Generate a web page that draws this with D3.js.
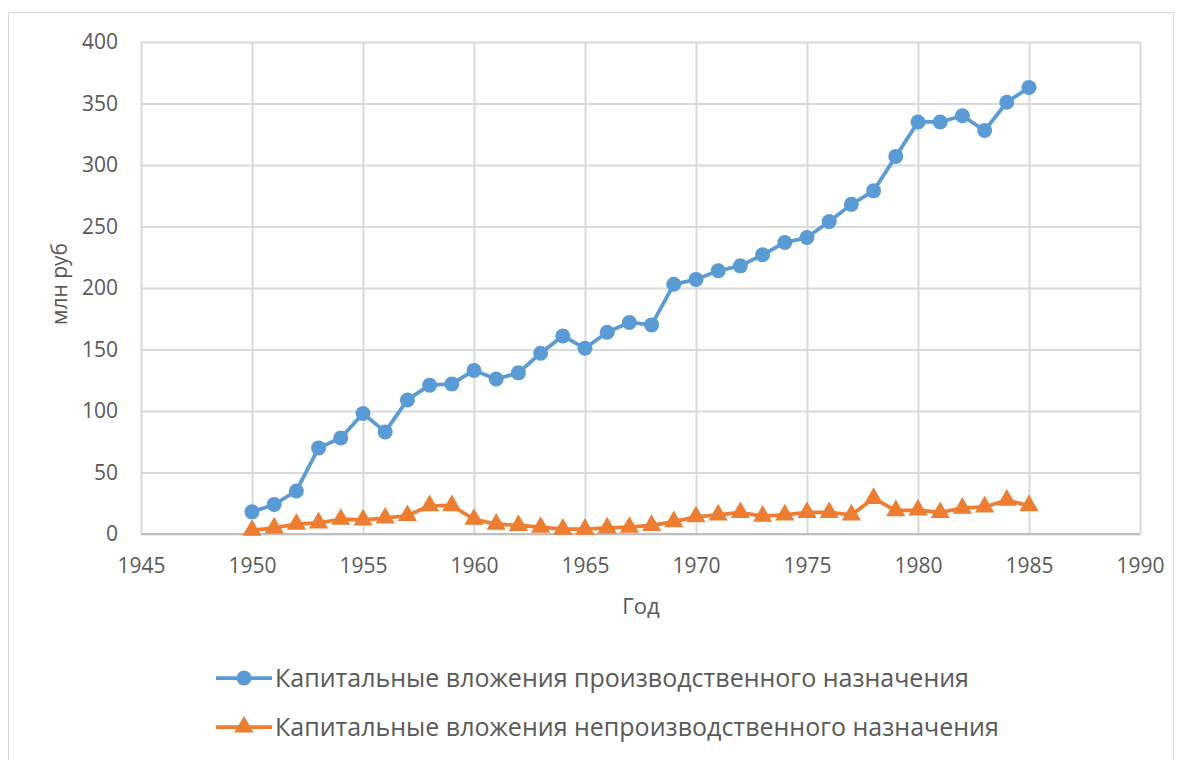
<!DOCTYPE html>
<html>
<head>
<meta charset="utf-8">
<script src="https://cdn.jsdelivr.net/npm/d3@7"></script>
<style>
  body { margin: 0; background: #fff; }
  text { font-family: "Open Sans", "Noto Sans", sans-serif; fill: #595959; }
</style>
</head>
<body>
<div id="chart"></div>
<script>
const years = d3.range(1950, 1986);
const productive = [18, 24, 35, 70, 78, 98, 83, 109, 121, 122,
  133, 126, 131, 147, 161, 151, 164, 172, 170, 203,
  207, 214, 218, 227, 237, 241, 254, 268, 279, 307,
  335, 335, 340, 328, 351, 363];
const nonProductive = [3, 5, 8, 9, 12, 11.5, 13, 15, 23, 23,
  12, 8, 7, 5.5, 4, 4, 5, 5.5, 7, 10,
  14, 15.5, 17.5, 14.5, 15.5, 17.5, 17.5, 15.5, 29, 19,
  19.5, 17.5, 21, 22, 27.5, 23];
const xTicks = d3.range(1945, 1991, 5);
const yTicks = d3.range(0, 401, 50);
const seriesNames = ["Капитальные вложения производственного назначения",
  "Капитальные вложения непроизводственного назначения"];
const colors = ["#5B9BD5", "#ED7D31"];

const W = 1181, H = 760;
const svg = d3.select("#chart").append("svg").attr("width", W).attr("height", H);

svg.append("rect").attr("x", 8.5).attr("y", 12.5).attr("width", 1165).attr("height", 800)
  .attr("fill", "#fff").attr("stroke", "#d9d9d9");

const x = d3.scaleLinear().domain([1945, 1990]).range([141, 1140]);
const y = d3.scaleLinear().domain([0, 400]).range([534, 42]);

// gridlines
svg.append("g").attr("transform", "translate(0,534)")
  .call(d3.axisBottom(x).tickValues(xTicks).tickSize(-(534 - 42)).tickFormat(""))
  .call(g => g.select(".domain").remove())
  .call(g => g.selectAll("line").attr("stroke", "#d9d9d9").attr("stroke-width", 2));
svg.append("g").attr("transform", "translate(141,0)")
  .call(d3.axisLeft(y).tickValues(yTicks).tickSize(-(1140 - 141)).tickFormat(""))
  .call(g => g.select(".domain").remove())
  .call(g => g.selectAll("line").attr("stroke", "#d9d9d9").attr("stroke-width", 2));
svg.append("line").attr("x1", 141).attr("x2", 1140).attr("y1", 534).attr("y2", 534)
  .attr("stroke", "#bfbfbf").attr("stroke-width", 2);

// tick labels
svg.append("g").attr("transform", "translate(0,534)")
  .call(d3.axisBottom(x).tickValues(xTicks).tickSize(0).tickPadding(24).tickFormat(d3.format("d")))
  .call(g => g.select(".domain").remove())
  .call(g => g.selectAll("text").style("font-size", "21px").attr("fill", "#595959"));
svg.append("g").attr("transform", "translate(141,0)")
  .call(d3.axisLeft(y).tickValues(yTicks).tickSize(0).tickPadding(23))
  .call(g => g.select(".domain").remove())
  .call(g => g.selectAll("text").style("font-size", "21px").attr("fill", "#595959"));

// axis titles
svg.append("text").attr("x", 641).attr("y", 614).attr("text-anchor", "middle")
  .style("font-size", "22px").text("Год");
svg.append("text").attr("transform", "translate(67,284) rotate(-90)").attr("text-anchor", "middle")
  .style("font-size", "21px").text("млн руб");

const line = d3.line().x((d, i) => x(years[i])).y(d => y(d));
const tri = d3.symbol().type(d3.symbolTriangle).size(160);

[productive, nonProductive].forEach((vals, k) => {
  svg.append("path").datum(vals).attr("d", line)
    .attr("fill", "none").attr("stroke", colors[k]).attr("stroke-width", 3.75)
    .attr("stroke-linejoin", "round");
  const g = svg.append("g").attr("fill", colors[k]);
  if (k === 0) {
    g.selectAll("circle").data(vals).join("circle")
      .attr("cx", (d, i) => x(years[i])).attr("cy", d => y(d)).attr("r", 7.5);
  } else {
    g.selectAll("path").data(vals).join("path")
      .attr("d", tri).attr("transform", (d, i) => `translate(${x(years[i])},${y(d)})`);
  }
});

// legend
seriesNames.forEach((name, k) => {
  const ly = 678 + k * 49;
  const g = svg.append("g");
  g.append("line").attr("x1", 216).attr("x2", 272).attr("y1", ly).attr("y2", ly)
    .attr("stroke", colors[k]).attr("stroke-width", 3.75);
  if (k === 0) g.append("circle").attr("cx", 244).attr("cy", ly).attr("r", 7.5).attr("fill", colors[k]);
  else g.append("path").attr("d", tri).attr("transform", `translate(244,${ly})`).attr("fill", colors[k]);
  g.append("text").attr("x", 275).attr("y", ly).attr("dy", "0.35em")
    .style("font-size", "25px").text(name);
});
</script>
</body>
</html>
